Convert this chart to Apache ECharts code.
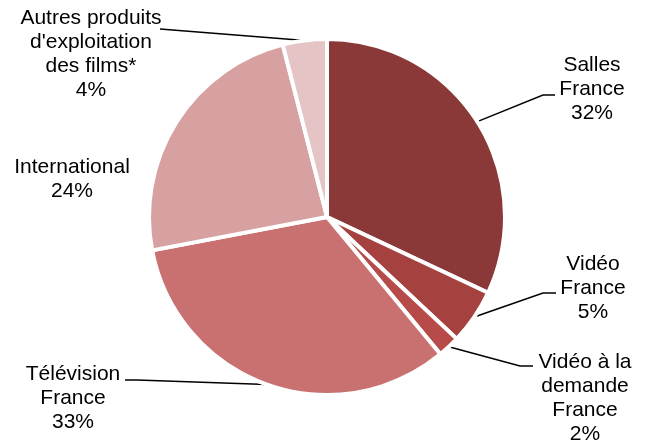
<!DOCTYPE html>
<html>
<head>
<meta charset="utf-8">
<script src="https://cdn.jsdelivr.net/npm/echarts@6/dist/echarts.min.js"></script>
<style>
html,body{margin:0;padding:0;background:#fff;}
#chart{width:645px;height:443px;}
</style>
</head>
<body>
<div id="chart"></div>
<script>
const categories = [
  'Salles\nFrance',
  'Vidéo\nFrance',
  'Vidéo à la\ndemande\nFrance',
  'Télévision\nFrance',
  'International',
  "Autres produits\nd'exploitation\ndes films*"
];
const shares = [32, 5, 2, 33, 24, 4];
const colors = ['#8B3838', '#A5413F', '#B64B49', '#C87170', '#D7A1A1', '#E4C4C5'];

// layout of label blocks (text placement) and where leader lines touch the text
const labelX = [592, 593, 585, 73, 72, 91];
const labelY = [89, 288, 398, 398, 179, 54];
const lineEndX = [555, 556, 533, 125, null, 160];
const lineEndY = [95, 293, 366, 380, null, 29];
const elbowDX = [-12, -13, -13, 12, 0, 0];

const data = categories.map((c, i) => ({
  name: c,
  value: shares[i],
  itemStyle: { color: colors[i] },
  labelLine: { show: lineEndX[i] !== null }
}));

const chart = echarts.init(document.getElementById('chart'), null, { renderer: 'canvas' });
chart.setOption({
  animation: false,
  series: [{
    type: 'pie',
    center: [327, 217],
    radius: [0, 178],
    startAngle: 90,
    clockwise: true,
    data: data,
    itemStyle: { borderColor: '#fff', borderWidth: 4 },
    label: {
      show: true,
      position: 'outside',
      formatter: '{b}\n{d}%',
      fontFamily: 'Liberation Sans, Arial, sans-serif',
      fontSize: 21,
      lineHeight: 24,
      color: '#000',
      align: 'center'
    },
    labelLine: {
      show: true,
      length: 20,
      length2: 12,
      lineStyle: { color: '#000', width: 1.5 }
    },
    labelLayout: function (p) {
      const i = p.dataIndex;
      const opt = {
        x: labelX[i],
        y: labelY[i],
        align: 'center',
        verticalAlign: 'middle',
        moveOverlap: false
      };
      if (lineEndX[i] !== null && p.labelLinePoints) {
        const start = p.labelLinePoints[0];
        const ex = lineEndX[i], ey = lineEndY[i];
        const elbow = elbowDX[i] === 0
          ? [(start[0] + ex) / 2, (start[1] + ey) / 2]
          : [ex + elbowDX[i], ey];
        opt.labelLinePoints = [[start[0], start[1]], elbow, [ex, ey]];
      }
      return opt;
    }
  }]
});
</script>
</body>
</html>
